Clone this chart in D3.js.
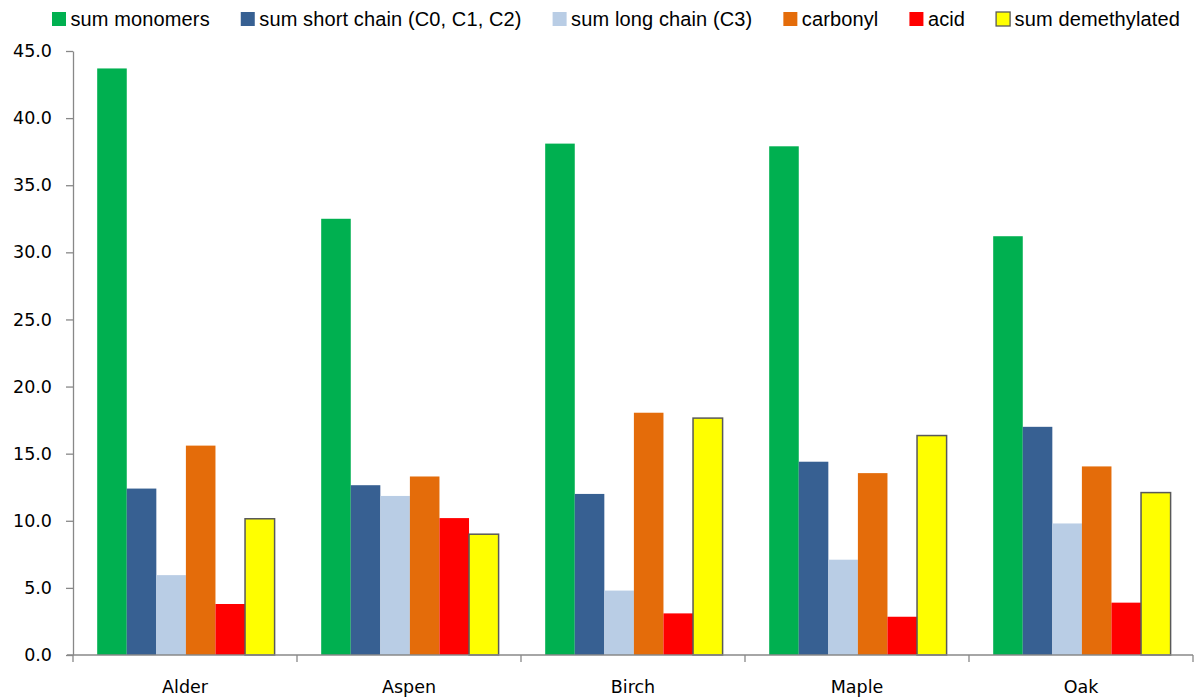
<!DOCTYPE html>
<html>
<head>
<meta charset="utf-8">
<script src="https://cdn.jsdelivr.net/npm/d3@7"></script>
<style>
  html, body { margin: 0; padding: 0; background: #fff; }
  svg { display: block; }
</style>
</head>
<body>
<svg id="chart" width="1194" height="697"></svg>
<script>
// Wood species on the category axis
const categories = ["Alder", "Aspen", "Birch", "Maple", "Oak"];

// Series names, in legend / bar order
const seriesNames = [
  "sum monomers",
  "sum short chain (C0, C1, C2)",
  "sum long chain (C3)",
  "carbonyl",
  "acid",
  "sum demethylated"
];

// Values per series, one per wood species
const sumMonomers     = [43.7, 32.5, 38.1, 37.9, 31.2];
const sumShortChain   = [12.4, 12.65, 12.0, 14.4, 17.0];
const sumLongChain    = [5.95, 11.85, 4.8, 7.1, 9.8];
const carbonyl        = [15.6, 13.3, 18.05, 13.55, 14.05];
const acid            = [3.8, 10.2, 3.1, 2.85, 3.9];
const sumDemethylated = [10.15, 9.0, 17.65, 16.35, 12.1];

const yTicks = [0, 5, 10, 15, 20, 25, 30, 35, 40, 45];

const seriesValues = [sumMonomers, sumShortChain, sumLongChain, carbonyl, acid, sumDemethylated];
const colors = ["#00B050", "#376092", "#B9CDE5", "#E46C0A", "#FF0000", "#FFFF00"];
const strokes = [null, null, null, null, null, "#595959"];

const svg = d3.select("#chart");
const margin = { left: 73, right: 1193, top: 51, bottom: 655 };

const x0 = d3.scaleBand().domain(categories).range([margin.left, margin.right]).padding(0);
const x1 = d3.scaleBand().domain(d3.range(seriesNames.length))
  .range([x0.bandwidth() * 0.108, x0.bandwidth() * 0.9]).padding(0);
const y = d3.scaleLinear().domain([0, 45]).range([margin.bottom, margin.top]);

const axisColor = "#888888";

// Bars
const groups = svg.append("g").selectAll("g")
  .data(categories)
  .join("g")
  .attr("transform", d => `translate(${x0(d)},0)`);

groups.selectAll("rect")
  .data((c, ci) => seriesValues.map((vals, si) => ({ si, v: vals[ci] })))
  .join("rect")
  .attr("x", d => x1(d.si))
  .attr("y", d => y(d.v))
  .attr("width", x1.bandwidth())
  .attr("height", d => y(0) - y(d.v))
  .attr("fill", d => colors[d.si])
  .attr("stroke", d => strokes[d.si] || "none")
  .attr("stroke-width", d => strokes[d.si] ? 1.5 : 0);

// Y axis
const yAxis = svg.append("g")
  .attr("transform", `translate(${margin.left},0)`)
  .call(d3.axisLeft(y).tickValues(yTicks).tickFormat(d3.format(".1f"))
    .tickSizeInner(7).tickSizeOuter(0).tickPadding(14));
yAxis.select(".domain").attr("stroke", axisColor).attr("stroke-width", 1.3);
yAxis.selectAll(".tick line").attr("stroke", axisColor).attr("stroke-width", 1.3);
yAxis.selectAll(".tick text")
  .attr("fill", "#000")
  .style("font-family", "'DejaVu Sans', Verdana, sans-serif")
  .style("font-size", "17.5px");

// X axis: ticks on category boundaries
const xAxisG = svg.append("g").attr("transform", `translate(0,${margin.bottom})`);
xAxisG.append("line")
  .attr("x1", margin.left - 6).attr("x2", margin.right)
  .attr("stroke", axisColor).attr("stroke-width", 1.3);
const boundaries = categories.map(c => x0(c)).concat([x0(categories[categories.length - 1]) + x0.bandwidth()]);
xAxisG.selectAll("line.tk")
  .data(boundaries)
  .join("line")
  .attr("class", "tk")
  .attr("x1", d => d).attr("x2", d => d)
  .attr("y1", 0).attr("y2", 7)
  .attr("stroke", axisColor).attr("stroke-width", 1.3);
xAxisG.selectAll("text")
  .data(categories)
  .join("text")
  .attr("x", d => x0(d) + x0.bandwidth() / 2)
  .attr("y", 38)
  .attr("text-anchor", "middle")
  .style("font-family", "'DejaVu Sans', Verdana, sans-serif")
  .style("font-size", "17.5px")
  .attr("fill", "#000")
  .text(d => d);

// Legend across the top
const legend = svg.append("g").attr("transform", "translate(52,19)");
let lx = 0;
seriesNames.forEach((name, i) => {
  const item = legend.append("g").attr("transform", `translate(${lx},0)`);
  item.append("rect")
    .attr("x", 0).attr("y", -7)
    .attr("width", 14).attr("height", 14)
    .attr("fill", colors[i])
    .attr("stroke", strokes[i] || "none")
    .attr("stroke-width", strokes[i] ? 1.3 : 0);
  const t = item.append("text")
    .attr("x", 18.5).attr("dy", "0.35em")
    .style("font-family", "'Liberation Sans', Arial, sans-serif")
    .style("font-size", "20px")
    .style("letter-spacing", "0.12px")
    .attr("fill", "#000")
    .text(name);
  lx += 18.5 + t.node().getComputedTextLength() + 31;
});
</script>
</body>
</html>
